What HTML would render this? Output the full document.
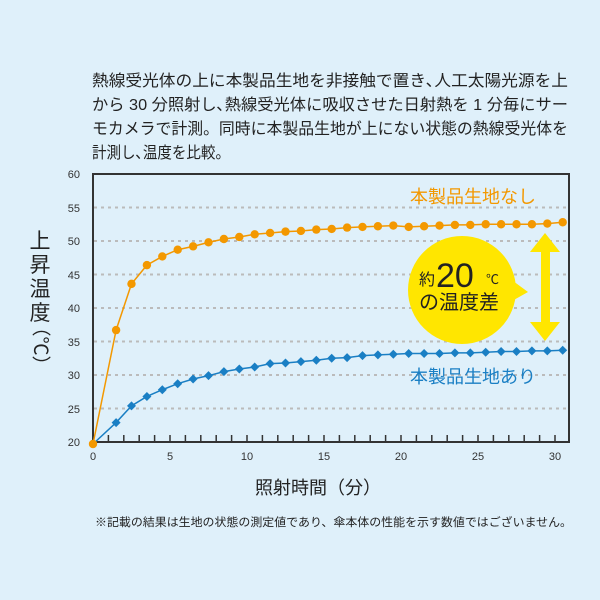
<!DOCTYPE html>
<html><head><meta charset="utf-8"><style>
body{margin:0;background:#dff0fa;}
svg{display:block;font-family:"Liberation Sans","Noto Sans CJK JP",sans-serif;}
</style></head><body>
<svg id="s" width="600" height="600" viewBox="0 0 600 600">
<rect width="600" height="600" fill="#dff0fa"/>
<g font-size="16" fill="#222">
<text x="92" y="86" textLength="476" lengthAdjust="spacingAndGlyphs">熱線受光体の上に本製品生地を非接触で置き､人工太陽光源を上</text>
<text x="92" y="110" textLength="476" lengthAdjust="spacingAndGlyphs">から 30 分照射し､熱線受光体に吸収させた日射熱を 1 分毎にサー</text>
<text x="92" y="134" textLength="476" lengthAdjust="spacingAndGlyphs">モカメラで計測。同時に本製品生地が上にない状態の熱線受光体を</text>
<text x="92" y="158" textLength="138" lengthAdjust="spacingAndGlyphs">計測し､温度を比較。</text>
</g>
<g id="grid" stroke="#bbb" stroke-width="2" stroke-dasharray="3,4"></g>
<rect x="93" y="174" width="476" height="268" fill="none" stroke="#333" stroke-width="2"/>
<g id="ticks" stroke="#333" stroke-width="1.5"></g>
<g font-size="11" fill="#333" text-anchor="end">
<text x="80" y="178">60</text><text x="80" y="212">55</text><text x="80" y="245">50</text><text x="80" y="279">45</text><text x="80" y="312">40</text><text x="80" y="346">35</text><text x="80" y="379">30</text><text x="80" y="413">25</text><text x="80" y="446">20</text>
</g>
<g font-size="11" fill="#333" text-anchor="middle">
<text x="93" y="460">0</text><text x="170" y="460">5</text><text x="247" y="460">10</text><text x="324" y="460">15</text><text x="401" y="460">20</text><text x="478" y="460">25</text><text x="555" y="460">30</text>
</g>
<g id="series"></g>
<circle cx="462" cy="290" r="54" fill="#ffe600"/>
<polygon points="505,275 528,292 505,305" fill="#ffe600"/>
<rect x="541" y="250" width="9" height="74" fill="#ffe600"/>
<polygon points="545,233 530,252 560,252" fill="#ffe600"/>
<polygon points="545,341 530,322 560,322" fill="#ffe600"/>
<text x="419" y="285" font-size="16" fill="#222">約</text>
<text x="436" y="287" font-size="34" fill="#222">20</text>
<text x="486" y="284" font-size="13" fill="#222">℃</text>
<text x="419" y="309" font-size="20" fill="#222">の温度差</text>
<text x="410" y="203" font-size="18" fill="#f39800">本製品生地なし</text>
<text x="410" y="383" font-size="18" fill="#1a7fc4">本製品生地あり</text>
<g font-size="21" fill="#222" text-anchor="middle">
<text x="40" y="248">上</text><text x="40" y="272">昇</text><text x="40" y="296">温</text><text x="40" y="320">度</text>
</g>
<text x="40" y="346" font-size="19" fill="#222" text-anchor="middle" dominant-baseline="central" transform="rotate(90 40 346)">（℃）</text>
<text x="318" y="494" font-size="18" fill="#222" text-anchor="middle">照射時間（分）</text>
<text x="95" y="526" font-size="11.5" fill="#222" textLength="477" lengthAdjust="spacingAndGlyphs">※記載の結果は生地の状態の測定値であり、傘本体の性能を示す数値ではございません。</text>
</svg>
<script>
var ns="http://www.w3.org/2000/svg";
function el(p,t,a){var e=document.createElementNS(ns,t);for(var k in a)e.setAttribute(k,a[k]);document.getElementById(p).appendChild(e);return e;}
function X(v){return 93+v*15.4;}function Y(v){return 442-(v-20)*6.7;}
for(var v=25;v<=55;v+=5)el("grid","line",{x1:94,x2:568,y1:Y(v),y2:Y(v)});
for(var i=1;i<=30;i++)el("ticks","line",{x1:X(i),x2:X(i),y1:442,y2:435});
var o=[19.7,36.7,43.6,46.4,47.7,48.7,49.2,49.8,50.3,50.6,51,51.2,51.4,51.5,51.7,51.8,52,52.1,52.2,52.3,52.1,52.2,52.3,52.4,52.4,52.5,52.5,52.5,52.5,52.6,52.8];
var b=[19.7,22.9,25.4,26.8,27.8,28.7,29.4,29.9,30.5,30.9,31.2,31.7,31.8,32,32.2,32.5,32.6,32.9,33,33.1,33.2,33.2,33.2,33.3,33.3,33.4,33.5,33.5,33.6,33.6,33.7];
function xs(i){return i==0?0:i+0.5;}
function draw(d,c,sh){var p="";d.forEach(function(v,i){p+=(i?"L":"M")+X(xs(i))+","+Y(v);});
el("series","path",{d:p,fill:"none",stroke:c,"stroke-width":1.5});
d.forEach(function(v,i){var x=X(xs(i)),y=Y(v);if(sh&&i>0)el("series","polygon",{points:(x)+","+(y-4.5)+" "+(x+4.5)+","+y+" "+x+","+(y+4.5)+" "+(x-4.5)+","+y,fill:c});else el("series","circle",{cx:x,cy:y,r:sh?4:4.2,fill:sh?"#f39800":c});});}
draw(b,"#1a7fc4",true);draw(o,"#f39800",false);
</script>
</body></html>
